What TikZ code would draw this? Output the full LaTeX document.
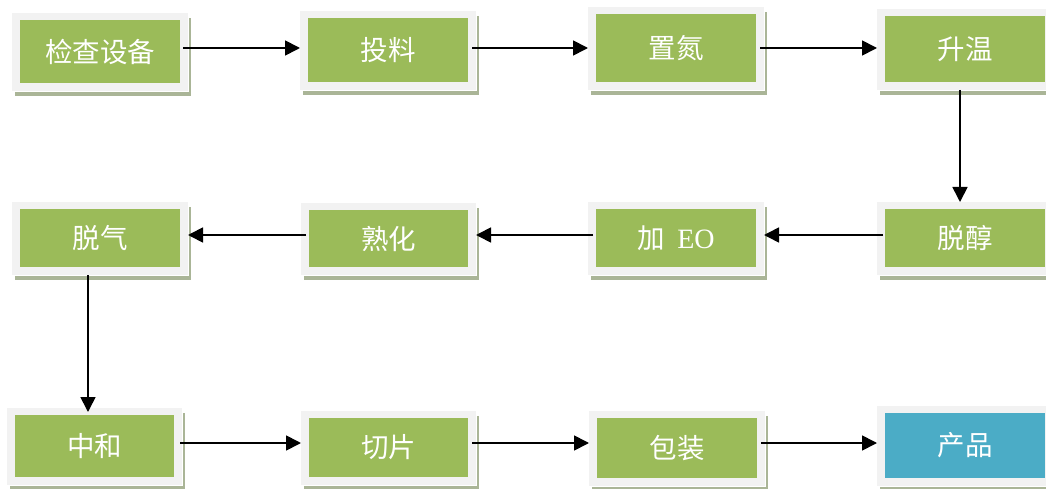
\documentclass[tikz,border=0pt]{standalone}
\usepackage{fontspec}
\setmainfont{Liberation Serif}
\newfontfamily\cjk{Noto Sans CJK SC}
\usetikzlibrary{arrows.meta}
\definecolor{boxgreen}{HTML}{9BBB59}
\definecolor{boxblue}{HTML}{4BACC6}
\definecolor{framegray}{HTML}{F2F2F2}
\definecolor{shadowc}{HTML}{AAB597}
\tikzset{
  framebox/.style={fill=framegray, draw=none, inner sep=0pt, outer sep=0pt},
  greenbox/.style={fill=boxgreen, draw=none, inner sep=0pt, outer sep=0pt, text=white, font=\cjk\fontsize{27.5}{30}\selectfont},
  bluebox/.style={greenbox, fill=boxblue},
  arr/.style={line width=1.7pt, -{Triangle[length=15pt,width=15pt]}}
}
% #1 name, #2 x1, #3 y1, #4 x2, #5 y2, #6 style, #7 text
\newcommand\procbox[7]{%
  \fill[shadowc] (#2+3,#3+5) rectangle (#4+3,#5+5);
  \fill[white] (#2+1,#5) rectangle (#4+1,#5+1.2);
  \fill[white] (#4,#3+1) rectangle (#4+1.2,#5+1);
  \node[framebox, minimum width={(#4-#2)*1pt}, minimum height={(#5-#3)*1pt}] (f#1) at ({(#2+#4)/2},{(#3+#5)/2}) {};
  \node[#6, minimum width={(#4-#2-16)*1pt}, minimum height={(#5-#3-15)*1pt}] (g#1) at ({(#2+#4)/2},{(#3+#5)/2-0.5}) {#7};
}
\begin{document}
\begin{tikzpicture}[x=1pt,y=-1pt]
\useasboundingbox (0,0) rectangle (1046,489);
\begin{scope}
\clip (0,0) rectangle (1046,489);
\procbox{1}{12}{13}{188}{91}{greenbox}{检查设备}
\procbox{2}{300}{11}{476}{90}{greenbox}{投料}
\procbox{3}{588}{7}{764}{90}{greenbox}{置氮}
\procbox{4}{877}{9}{1053}{90}{greenbox}{升温}
\procbox{5}{12}{202}{188}{275}{greenbox}{脱气}
\procbox{6}{301}{203}{476}{275}{greenbox}{熟化}
\procbox{7}{588}{202}{764}{275}{greenbox}{加\ \ {\rmfamily\fontsize{28}{30}\selectfont EO}}
\procbox{8}{877}{202}{1053}{275}{greenbox}{脱醇}
\procbox{9}{7}{408}{182}{485}{greenbox}{中和}
\procbox{10}{301}{411}{476}{485}{greenbox}{切片}
\procbox{11}{589}{411}{765}{486}{greenbox}{包装}
\procbox{12}{877}{406}{1053}{486}{bluebox}{产品}
\end{scope}
% row 1
\draw[arr] ([xshift=3pt]g1.east |- 0,48) -- (f2.west |- 0,48);
\draw[arr] ([xshift=4pt]g2.east |- 0,48) -- (f3.west |- 0,48);
\draw[arr] ([xshift=4pt]g3.east |- 0,48) -- (f4.west |- 0,48);
% down
\draw[arr] (f4.south -| 960,0) -- (f8.north -| 960,0);
% row 2
\draw[arr] ([xshift=-2pt]g8.west |- 0,235) -- (f7.east |- 0,235);
\draw[arr] ([xshift=-3pt]g7.west |- 0,235) -- (f6.east |- 0,235);
\draw[arr] ([xshift=-3pt]g6.west |- 0,235) -- (f5.east |- 0,235);
% down
\draw[arr] (f5.south -| 88,0) -- ([yshift=-4pt]f9.north -| 88,0);
% row 3
\draw[arr] ([xshift=6pt]g9.east |- 0,443) -- (f10.west |- 0,443);
\draw[arr] ([xshift=4pt]g10.east |- 0,443) -- (f11.west |- 0,443);
\draw[arr] ([xshift=4pt]g11.east |- 0,443) -- (f12.west |- 0,443);
\end{tikzpicture}
\end{document}
